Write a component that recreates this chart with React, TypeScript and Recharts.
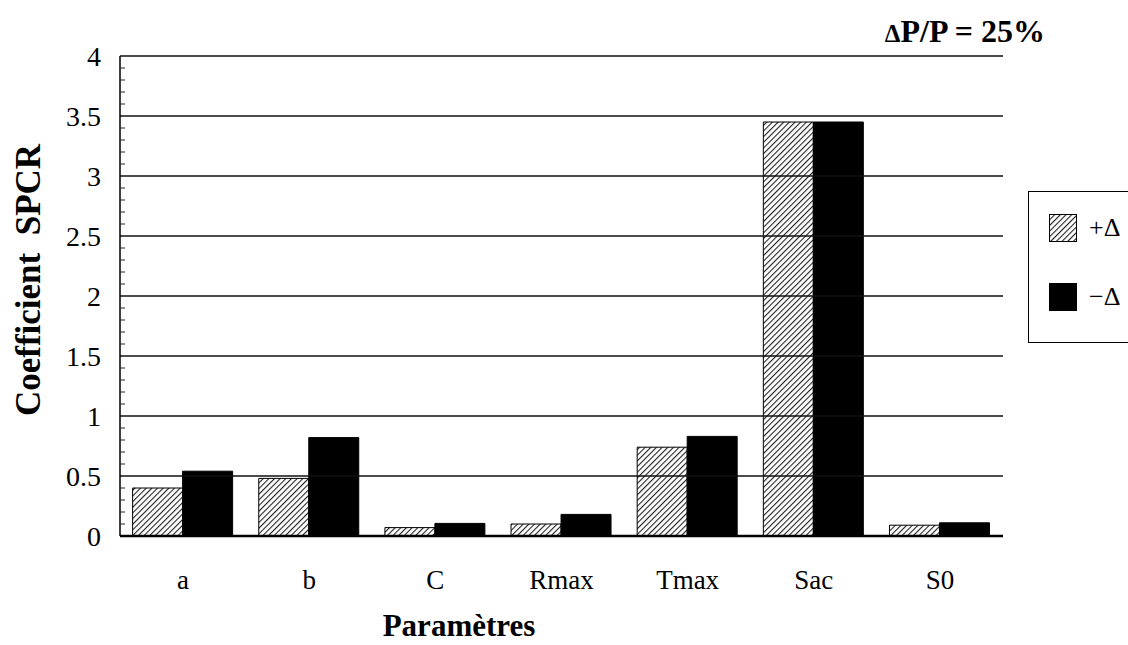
import React from "react";
import { BarChart, Bar, XAxis, YAxis, ReferenceLine } from "recharts";

const PARAMS = ["a", "b", "C", "Rmax", "Tmax", "Sac", "S0"];
const PLUS_DELTA = [0.4, 0.48, 0.07, 0.1, 0.74, 3.45, 0.09];
const MINUS_DELTA = [0.54, 0.82, 0.105, 0.18, 0.83, 3.45, 0.11];
const Y_MAJOR = [0, 0.5, 1, 1.5, 2, 2.5, 3, 3.5, 4];
const Y_LABELS = ["0", "0.5", "1", "1.5", "2", "2.5", "3", "3.5", "4"];
const SERIES = [
  { key: "plus", name: "+Δ", fill: "url(#hatch)" },
  { key: "minus", name: "−Δ", fill: "#000" },
];

const data = PARAMS.map((p, i) => ({ name: p, plus: PLUS_DELTA[i], minus: MINUS_DELTA[i] }));

// minor ticks every 0.1 on the value axis
const yTicks: number[] = [];
for (let i = 0; i <= 40; i++) yTicks.push(i / 10);

const FONT = "'Liberation Serif', 'Times New Roman', serif";

function YTick(props: any) {
  const { x, y, payload } = props;
  const v = payload.value;
  const idx = Y_MAJOR.findIndex((m) => Math.abs(m - v) < 1e-6);
  const axisX = x + 19;
  return (
    <g>
      {idx < 0 && <line x1={axisX} x2={axisX + 5} y1={y} y2={y} stroke="#222" strokeWidth={1} />}
      {idx >= 0 && (
        <text x={x} y={y} dy="0.35em" textAnchor="end" fontSize={28} fontFamily={FONT} fill="#000">
          {Y_LABELS[idx]}
        </text>
      )}
    </g>
  );
}

function HatchSwatch() {
  return (
    <svg width={28} height={28} style={{ display: "block" }}>
      <defs>
        <pattern id="hatchLegend" patternUnits="userSpaceOnUse" width={4} height={4} patternTransform="rotate(45)">
          <rect width={4} height={4} fill="#fff" />
          <line x1={0} y1={0} x2={0} y2={4} stroke="#222" strokeWidth={2.2} />
        </pattern>
      </defs>
      <rect x={0.5} y={0.5} width={27} height={27} fill="url(#hatchLegend)" stroke="#000" />
    </svg>
  );
}

export default function App() {
  return (
    <div style={{ position: "absolute", left: 0, top: 0, width: 1128, height: 645, overflow: "hidden", background: "#fff" }}>
      <BarChart
        width={1128}
        height={645}
        data={data}
        margin={{ top: 56, right: 125, bottom: 49, left: 0 }}
        barCategoryGap="10%"
        barGap={0}
      >
        <defs>
          <pattern id="hatch" patternUnits="userSpaceOnUse" width={4} height={4} patternTransform="rotate(45)">
            <rect width={4} height={4} fill="#fff" />
            <line x1={0} y1={0} x2={0} y2={4} stroke="#222" strokeWidth={2.2} />
          </pattern>
        </defs>
        <XAxis
          dataKey="name"
          xAxisId="cat"
          height={60}
          tickLine={false}
          tickSize={0}
          tickMargin={34}
          axisLine={{ stroke: "#000", strokeWidth: 2.5 }}
          tick={{ fontSize: 27, fontFamily: FONT, fill: "#000" }}
        />
        <YAxis
          width={120}
          domain={[0, 4]}
          ticks={yTicks}
          interval={0}
          tickLine={false}
          tickSize={0}
          tickMargin={19}
          axisLine={{ stroke: "#000", strokeWidth: 1.5 }}
          tick={<YTick />}
        />
        <YAxis
          yAxisId="right"
          orientation="right"
          width={0}
          domain={[0, 4]}
          tick={false}
          tickLine={false}
          axisLine={{ stroke: "#555", strokeWidth: 1, strokeDasharray: "8 3" }}
        />
        {Y_MAJOR.slice(1).map((v) => (
          <ReferenceLine key={v} y={v} xAxisId="cat" stroke="#111" strokeWidth={1.5} />
        ))}
        {SERIES.map((s) => (
          <Bar
            key={s.key}
            dataKey={s.key}
            name={s.name}
            xAxisId="cat"
            fill={s.fill}
            stroke="#000"
            strokeWidth={1}
            isAnimationActive={false}
          />
        ))}
      </BarChart>

      <svg width={1128} height={645} style={{ position: "absolute", left: 0, top: 0, pointerEvents: "none" }}>
        <text
          transform="translate(40,280) rotate(-90)"
          textAnchor="middle"
          fontSize={35}
          fontWeight="bold"
          fontFamily={FONT}
          fill="#000"
          style={{ whiteSpace: "pre" }}
        >
          {"Coefficient  SPCR"}
        </text>
        <text x={459} y={636} textAnchor="middle" fontSize={31} fontWeight="bold" fontFamily={FONT} fill="#000">
          Paramètres
        </text>
        <text x={1045} y={42} textAnchor="end" fontSize={32} fontWeight="bold" fontFamily={FONT} fill="#000">
          <tspan fontSize={25}>Δ</tspan>P/P = 25%
        </text>
      </svg>

      <div
        style={{
          position: "absolute",
          left: 1028,
          top: 191,
          width: 130,
          height: 152,
          border: "1.5px solid #000",
          boxSizing: "border-box",
          fontFamily: FONT,
          fontSize: 26,
        }}
      >
        {SERIES.map((s, i) => (
          <div
            key={s.key}
            style={{ position: "absolute", left: 20, top: 22 + i * 69, display: "flex", alignItems: "center", height: 28 }}
          >
            {s.key === "plus" ? (
              <HatchSwatch />
            ) : (
              <div style={{ width: 28, height: 28, background: "#000" }} />
            )}
            <span style={{ marginLeft: 12 }}>{s.name}</span>
          </div>
        ))}
      </div>
    </div>
  );
}
